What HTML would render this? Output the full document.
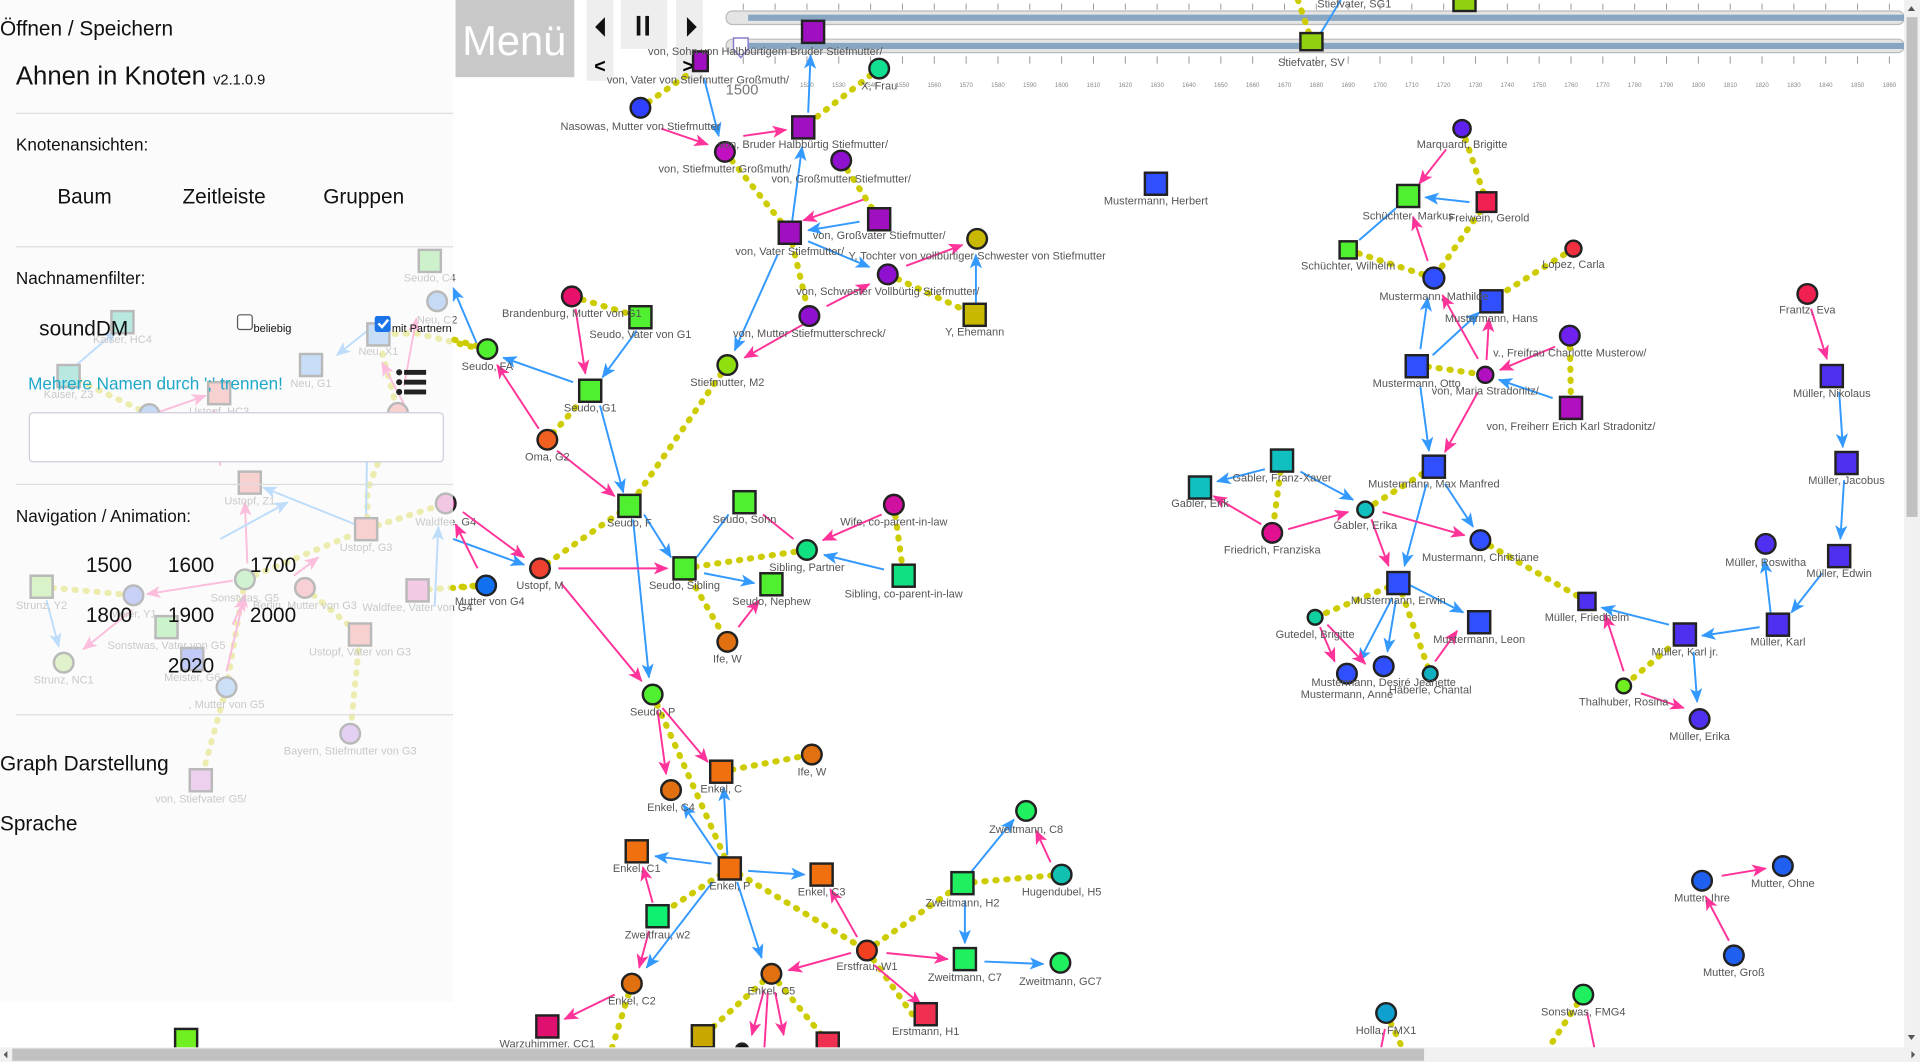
<!DOCTYPE html>
<html><head><meta charset="utf-8"><style>
html,body{margin:0;padding:0;background:#fff;overflow:hidden;width:1920px;height:1062px}
svg{display:block}
.l{font-family:"Liberation Sans Narrow","Liberation Sans",sans-serif;font-size:9px;fill:#555;text-anchor:middle}
.p{font-family:"Liberation Sans",sans-serif;fill:#111}
.b{stroke:#3399ff;stroke-width:1.6;fill:none;marker-end:url(#ab)}
.k{stroke:#ff3399;stroke-width:1.6;fill:none;marker-end:url(#ak)}
.y{stroke:#cccc00;stroke-width:5;stroke-dasharray:1 8;stroke-linecap:round;fill:none}
.n{stroke:#222;stroke-width:2}
</style></head><body>
<svg width="1920" height="1062" viewBox="0 0 1568 867" preserveAspectRatio="none" xmlns="http://www.w3.org/2000/svg">
<defs>
<marker id="ab" markerUnits="userSpaceOnUse" markerWidth="12" markerHeight="10" refX="11" refY="5" orient="auto"><path d="M0,0L12,5L0,10L3,5z" fill="#3399ff"/></marker>
<marker id="ak" markerUnits="userSpaceOnUse" markerWidth="12" markerHeight="10" refX="11" refY="5" orient="auto"><path d="M0,0L12,5L0,10L3,5z" fill="#ff3399"/></marker>
</defs>
<rect width="1568" height="867" fill="#fff"/>

<!-- timeline -->
<g stroke="#999" stroke-width="0.8">
<path d="M607,3v5M633,3v5M659,3v5M685,3v5M711,3v5M737,3v5M763,3v5M789,3v5M815,3v5M841,3v5M867,3v5M893,3v5M919,3v5M945,3v5M971,3v5M997,3v5M1023,3v5M1049,3v5M1075,3v5M1101,3v5M1127,3v5M1153,3v5M1179,3v5M1205,3v5M1231,3v5M1257,3v5M1283,3v5M1309,3v5M1335,3v5M1361,3v5M1387,3v5M1413,3v5M1439,3v5M1465,3v5M1491,3v5M1517,3v5M1543,3v5"/>
<path d="M607,46v6M633,46v6M659,46v6M685,46v6M711,46v6M737,46v6M763,46v6M789,46v6M815,46v6M841,46v6M867,46v6M893,46v6M919,46v6M945,46v6M971,46v6M997,46v6M1023,46v6M1049,46v6M1075,46v6M1101,46v6M1127,46v6M1153,46v6M1179,46v6M1205,46v6M1231,46v6M1257,46v6M1283,46v6M1309,46v6M1335,46v6M1361,46v6M1387,46v6M1413,46v6M1439,46v6M1465,46v6M1491,46v6M1517,46v6M1543,46v6"/>
</g>
<rect x="593" y="9" width="962" height="11" rx="5" fill="#e4e4e4" stroke="#bbb"/>
<rect x="611" y="12" width="944" height="5" fill="#88a6c2"/>
<rect x="593" y="32" width="962" height="11" rx="5" fill="#e4e4e4" stroke="#bbb"/>
<rect x="611" y="35" width="944" height="5" fill="#88a6c2"/>
<path d="M599,31h12v9l-6,7l-6,-7z" fill="#fff" stroke="#8a7acc" stroke-width="1.2"/>
<g font-family="Liberation Sans,sans-serif" font-size="5" fill="#888" text-anchor="middle">
<text x="659" y="71">1520</text><text x="685" y="71">1530</text><text x="711" y="71">1540</text><text x="737" y="71">1550</text><text x="763" y="71">1560</text><text x="789" y="71">1570</text><text x="815" y="71">1580</text><text x="841" y="71">1590</text><text x="867" y="71">1600</text><text x="893" y="71">1610</text><text x="919" y="71">1620</text><text x="945" y="71">1630</text><text x="971" y="71">1640</text><text x="997" y="71">1650</text><text x="1023" y="71">1660</text><text x="1049" y="71">1670</text><text x="1075" y="71">1680</text><text x="1101" y="71">1690</text><text x="1127" y="71">1700</text><text x="1153" y="71">1710</text><text x="1179" y="71">1720</text><text x="1205" y="71">1730</text><text x="1231" y="71">1740</text><text x="1257" y="71">1750</text><text x="1283" y="71">1760</text><text x="1309" y="71">1770</text><text x="1335" y="71">1780</text><text x="1361" y="71">1790</text><text x="1387" y="71">1800</text><text x="1413" y="71">1810</text><text x="1439" y="71">1820</text><text x="1465" y="71">1830</text><text x="1491" y="71">1840</text><text x="1517" y="71">1850</text><text x="1543" y="71">1860</text>
</g>
<text x="606" y="77" font-family="Liberation Sans,sans-serif" font-size="12" fill="#777" text-anchor="middle">1500</text>

<!-- faded left graph -->
<g>
<path class="y" d="M385,283L340,272L310,273"/><path class="y" d="M310,280L325,337"/><path class="y" d="M56,307L122,338"/>
<path class="y" d="M34,479L109,486"/><path class="y" d="M200,473L299,432L364,411"/><path class="y" d="M341,482L390,478"/>
<path class="y" d="M249,480L294,518L286,599"/><path class="y" d="M200,473L185,561L164,637"/><path class="y" d="M300,432L300,400L325,337"/>
<path class="b" d="M390,282L370,235"/><path class="b" d="M300,270L275,290"/><path class="k" d="M330,330L312,296"/>
<path class="k" d="M190,510L200,488"/><path class="b" d="M299,420L300,350"/><path class="b" d="M290,428L215,398"/>
<path class="k" d="M185,548L200,485"/><path class="k" d="M108,498L68,530"/><path class="b" d="M38,490L48,528"/>
<path class="k" d="M125,338L168,323"/><path class="k" d="M180,380L175,335"/><path class="b" d="M60,300L95,270"/>
<path class="k" d="M240,470L260,455"/><path class="b" d="M355,495L358,430"/><path class="k" d="M330,315L340,260"/>
<path class="k" d="M190,474L120,485"/><path class="k" d="M202,460L200,410"/><path class="b" d="M180,440L235,410"/>
<g class="n" stroke="#666">
<rect x="342" y="204" width="18" height="18" fill="#66e060"/><circle cx="357" cy="246" r="8" fill="#4a90e8"/>
<rect x="300" y="264" width="18" height="18" fill="#5599ee"/><rect x="245" y="289" width="18" height="18" fill="#5599ee"/>
<rect x="91" y="254" width="18" height="18" fill="#20c0a0"/><rect x="47" y="298" width="18" height="18" fill="#20c0a0"/>
<rect x="170" y="312" width="18" height="18" fill="#f07070"/><circle cx="122" cy="338" r="8" fill="#4a90e8"/>
<circle cx="325" cy="337" r="8" fill="#f07070"/><circle cx="364" cy="411" r="8" fill="#e050b0"/>
<rect x="195" y="385" width="18" height="18" fill="#f07070"/><rect x="290" y="423" width="18" height="18" fill="#f07070"/>
<rect x="25" y="470" width="18" height="18" fill="#90e050"/><circle cx="109" cy="486" r="8" fill="#5070f0"/>
<circle cx="200" cy="473" r="8" fill="#70e070"/><circle cx="249" cy="480" r="8" fill="#f07080"/>
<rect x="332" y="473" width="18" height="18" fill="#e060b0"/><rect x="127" y="503" width="18" height="18" fill="#60e060"/>
<rect x="148" y="529" width="18" height="18" fill="#4060f0"/><rect x="285" y="509" width="18" height="18" fill="#f07070"/>
<circle cx="52" cy="541" r="8" fill="#a0e060"/><circle cx="185" cy="561" r="8" fill="#60a0f0"/>
<circle cx="286" cy="599" r="8" fill="#b070e0"/><rect x="155" y="628" width="18" height="18" fill="#d070d0"/>
</g>
<text class="l" x="351" y="230">Seudo, C4</text><text class="l" x="357" y="264">Neu, C2</text><text class="l" x="309" y="290">Neu, X1</text>
<text class="l" x="254" y="316">Neu, G1</text><text class="l" x="100" y="280">Kaiser, HC4</text><text class="l" x="56" y="325">Kaiser, Z3</text>
<text class="l" x="179" y="339">Ustopf, HC3</text><text class="l" x="364" y="429">Waldfee, G4</text><text class="l" x="204" y="412">Ustopf, Z1</text>
<text class="l" x="299" y="450">Ustopf, G3</text><text class="l" x="34" y="497">Strunz, Y2</text><text class="l" x="109" y="504">Meier, Y1</text>
<text class="l" x="200" y="491">Sonstwas, G5</text><text class="l" x="249" y="497">Berlin, Mutter von G3</text><text class="l" x="341" y="499">Waldfee, Vater von G4</text>
<text class="l" x="136" y="530">Sonstwas, Vater von G5</text><text class="l" x="157" y="556">Meister, G6</text><text class="l" x="294" y="535">Ustopf, Vater von G3</text>
<text class="l" x="52" y="558">Strunz, NC1</text><text class="l" x="185" y="578">, Mutter von G5</text><text class="l" x="286" y="616">Bayern, Stiefmutter von G3</text>
<text class="l" x="164" y="655">von, Stiefvater G5/</text>
</g>

<!-- left panel overlay -->
<rect x="0" y="0" width="370" height="818" fill="#fafafa" opacity="0.7"/>
<text class="p" x="0" y="29" font-size="17">Öffnen / Speichern</text>
<text class="p" x="13" y="69" font-size="21">Ahnen in Knoten <tspan font-size="12">v2.1.0.9</tspan></text>
<rect x="13" y="92" width="357" height="1" fill="#ddd"/>
<text class="p" x="13" y="123" font-size="14">Knotenansichten:</text>
<text class="p" x="69" y="166" font-size="17" text-anchor="middle">Baum</text>
<text class="p" x="183" y="166" font-size="17" text-anchor="middle">Zeitleiste</text>
<text class="p" x="297" y="166" font-size="17" text-anchor="middle">Gruppen</text>
<rect x="13" y="201" width="357" height="1" fill="#ddd"/>
<text class="p" x="13" y="232" font-size="14">Nachnamenfilter:</text>
<text class="p" x="32" y="274" font-size="17">soundDM</text>
<rect x="194" y="257" width="12" height="12" rx="2" fill="#fff" stroke="#555"/>
<text class="p" x="207" y="271" font-size="9">beliebig</text>
<rect x="306" y="258" width="13" height="13" rx="2" fill="#1a73e8"/>
<path d="M309,264l3,3l5,-6" stroke="#fff" stroke-width="2" fill="none"/>
<text class="p" x="320" y="271" font-size="9">mit Partnern</text>
<text x="23" y="318" font-size="14" textLength="208" font-family="Liberation Sans,sans-serif" fill="#20a8c8">Mehrere Namen durch ';' trennen!</text>
<g fill="#222"><circle cx="326" cy="304" r="2.5"/><circle cx="326" cy="312" r="2.5"/><circle cx="326" cy="320" r="2.5"/>
<rect x="330" y="302" width="18" height="4"/><rect x="330" y="310" width="18" height="4"/><rect x="330" y="318" width="18" height="4"/></g>
<rect x="24" y="337" width="338" height="40" rx="3" fill="#fff" stroke="#ccd"/>
<rect x="13" y="395" width="357" height="1" fill="#ddd"/>
<text class="p" x="13" y="426" font-size="14">Navigation / Animation:</text>
<g class="p" font-size="17" text-anchor="middle">
<text x="89" y="467">1500</text><text x="156" y="467">1600</text><text x="223" y="467">1700</text>
<text x="89" y="508">1800</text><text x="156" y="508">1900</text><text x="223" y="508">2000</text>
<text x="156" y="549">2020</text></g>
<rect x="13" y="583" width="357" height="1" fill="#ddd"/>
<text class="p" x="0" y="629" font-size="17">Graph Darstellung</text>
<text class="p" x="0" y="678" font-size="17">Sprache</text>

<!-- top controls -->
<rect x="372" y="0" width="97" height="63" fill="#c8c8c8"/>
<text x="420" y="45" font-size="34" font-family="Liberation Sans,sans-serif" fill="#fff" text-anchor="middle">Menü</text>
<rect x="479" y="0" width="22" height="66" fill="#eee"/>
<rect x="507" y="0" width="38" height="40" fill="#eee"/>
<rect x="552" y="0" width="22" height="66" fill="#eee"/>
<path d="M494,14v16l-8,-8z" fill="#111"/><rect x="520" y="13" width="3" height="16" fill="#111"/><rect x="527" y="13" width="3" height="16" fill="#111"/>
<path d="M561,14v16l8,-8z" fill="#111"/>
<text x="490" y="59" font-size="16" font-weight="bold" font-family="Liberation Sans,sans-serif" text-anchor="middle">&lt;</text>
<text x="562" y="59" font-size="16" font-weight="bold" font-family="Liberation Sans,sans-serif" text-anchor="middle">&gt;</text>

<!-- yellow partner links -->
<path class="y" d="M718,56L656,104"/><path class="y" d="M560,62L523,88"/><path class="y" d="M592,124L645,190"/>
<path class="y" d="M687,131L718,179"/><path class="y" d="M645,190L661,258"/><path class="y" d="M725,224L796,257"/>
<path class="y" d="M594,298L514,413"/><path class="y" d="M467,242L523,259"/><path class="y" d="M482,319L447,359"/>
<path class="y" d="M514,413L441,464"/><path class="y" d="M559,464L659,449"/><path class="y" d="M559,464L594,524"/>
<path class="y" d="M730,412L738,470"/><path class="y" d="M397,478L370,480"/><path class="y" d="M398,285L370,277"/>
<path class="y" d="M533,567L596,709"/><path class="y" d="M589,630L663,616"/><path class="y" d="M596,709L537,748"/>
<path class="y" d="M596,709L708,776"/><path class="y" d="M708,776L786,721"/><path class="y" d="M786,721L867,714"/>
<path class="y" d="M630,795L574,846"/><path class="y" d="M630,795L676,851"/><path class="y" d="M516,803L500,855"/>
<path class="y" d="M708,776L745,828"/><path class="y" d="M1060,0L1071,33"/>
<path class="y" d="M1194,105L1214,165"/><path class="y" d="M1214,165L1171,227"/><path class="y" d="M1101,204L1171,227"/>
<path class="y" d="M1285,203L1218,245"/><path class="y" d="M1157,298L1213,306"/><path class="y" d="M1282,274L1283,333"/>
<path class="y" d="M1047,376L1039,435"/><path class="y" d="M1115,416L1171,381"/><path class="y" d="M1142,476L1074,504"/>
<path class="y" d="M1142,476L1168,550"/><path class="y" d="M1209,441L1296,491"/><path class="y" d="M1376,518L1326,560"/>
<path class="y" d="M1132,827L1145,855"/><path class="y" d="M1293,812L1265,855"/>

<!-- blue arrows -->
<path class="b" d="M575,64L587,111"/><path class="b" d="M660,92L662,45"/><path class="b" d="M647,180L655,120"/>
<path class="b" d="M702,181L660,188"/><path class="b" d="M660,197L710,218"/><path class="b" d="M797,247L797,208"/>
<path class="b" d="M635,208L600,286"/><path class="b" d="M520,270L492,308"/><path class="b" d="M468,312L411,292"/>
<path class="b" d="M490,331L509,402"/><path class="b" d="M370,440L428,461"/><path class="b" d="M517,424L530,553"/>
<path class="b" d="M526,420L548,455"/><path d="M569,455L595,420" stroke="#3399ff" stroke-width="1.6"/>
<path class="b" d="M722,465L673,453"/><path class="b" d="M575,468L616,476"/>
<path class="b" d="M587,700L558,657"/><path class="b" d="M594,698L591,643"/><path class="b" d="M581,705L535,699"/>
<path class="b" d="M611,711L657,714"/><path class="b" d="M602,720L622,782"/><path class="b" d="M582,720L528,790"/>
<path class="b" d="M793,712L828,669"/><path class="b" d="M788,735L788,770"/><path class="b" d="M804,785L852,787"/>
<path d="M1078,28L1095,0" stroke="#3399ff" stroke-width="1.6"/>
<path class="b" d="M1200,165L1164,161"/><path d="M1110,196L1140,170" stroke="#3399ff" stroke-width="1.6"/>
<path class="b" d="M1160,285L1166,243"/><path class="b" d="M1170,290L1208,255"/><path class="b" d="M1268,325L1224,310"/>
<path class="b" d="M1160,316L1167,368"/><path class="b" d="M1033,383L994,393"/><path class="b" d="M1062,385L1105,408"/>
<path class="b" d="M1180,395L1203,430"/><path class="b" d="M1165,395L1147,462"/><path class="b" d="M1152,478L1195,500"/>
<path class="b" d="M1137,488L1110,540"/><path class="b" d="M1140,490L1133,532"/><path class="b" d="M1363,510L1308,496"/>
<path class="b" d="M1437,512L1390,519"/><path class="b" d="M1383,532L1386,573"/><path class="b" d="M1446,500L1441,457"/>
<path class="b" d="M1488,468L1463,500"/><path class="b" d="M1502,320L1505,365"/><path class="b" d="M1506,392L1503,440"/>

<!-- pink arrows -->
<path class="k" d="M540,105L578,118"/><path class="k" d="M607,111L642,106"/><path class="k" d="M705,163L656,180"/>
<path class="k" d="M675,250L710,232"/><path class="k" d="M740,217L786,200"/><path class="k" d="M661,262L608,292"/>
<path class="k" d="M470,252L478,305"/><path class="k" d="M440,350L406,298"/><path class="k" d="M455,368L502,405"/>
<path class="k" d="M378,418L428,455"/><path class="k" d="M390,464L372,428"/><path class="k" d="M456,464L545,464"/>
<path class="k" d="M458,476L524,556"/><path class="k" d="M720,420L672,441"/><path d="M623,420L648,440" stroke="#ff3399" stroke-width="1.6"/>
<path class="k" d="M603,512L620,490"/><path class="k" d="M537,580L544,632"/><path class="k" d="M541,578L578,622"/>
<path class="k" d="M533,737L525,708"/><path class="k" d="M530,760L522,790"/><path class="k" d="M700,765L678,726"/>
<path class="k" d="M695,778L644,792"/><path class="k" d="M724,778L774,783"/><path class="k" d="M714,788L752,820"/>
<path class="k" d="M502,812L461,832"/><path class="k" d="M624,808L614,845"/><path d="M627,810L624,860" stroke="#ff3399" stroke-width="1.6"/>
<path class="k" d="M633,810L640,845"/><path class="k" d="M858,704L846,678"/>
<path class="k" d="M1181,122L1159,150"/><path class="k" d="M1166,213L1154,177"/><path class="k" d="M1207,293L1178,241"/>
<path class="k" d="M1214,294L1216,260"/><path class="k" d="M1270,283L1225,302"/><path class="k" d="M1207,320L1180,369"/>
<path class="k" d="M1030,428L991,405"/><path class="k" d="M1052,432L1101,418"/><path class="k" d="M1129,418L1196,437"/>
<path class="k" d="M1120,424L1134,462"/><path class="k" d="M1078,512L1090,540"/><path class="k" d="M1084,510L1115,542"/>
<path class="k" d="M1172,540L1190,515"/><path class="k" d="M1326,548L1311,502"/><path class="k" d="M1340,566L1375,578"/>
<path class="k" d="M1479,252L1492,293"/><path class="k" d="M1406,715L1442,709"/><path class="k" d="M1412,768L1393,732"/>
<path d="M1131,840L1128,855" stroke="#ff3399" stroke-width="1.6"/><path d="M1296,826L1302,855" stroke="#ff3399" stroke-width="1.6"/>

<!-- nodes -->
<g class="n">
<rect x="566" y="42" width="12" height="16" fill="#a010c0"/>
<rect x="655" y="17" width="18" height="18" fill="#a010c0"/>
<circle cx="718" cy="56" r="8" fill="#10e090"/>
<circle cx="523" cy="88" r="8" fill="#3040ff"/>
<rect x="647" y="95" width="18" height="18" fill="#a010c0"/>
<circle cx="592" cy="124" r="8" fill="#c010c0"/>
<circle cx="687" cy="131" r="8" fill="#9010d0"/>
<rect x="709" y="170" width="18" height="18" fill="#a010c0"/>
<rect x="636" y="181" width="18" height="18" fill="#a010c0"/>
<circle cx="798" cy="195" r="8" fill="#c8b800"/>
<circle cx="725" cy="224" r="8" fill="#9010d0"/>
<rect x="787" y="248" width="18" height="18" fill="#c8b800"/>
<circle cx="661" cy="258" r="8" fill="#9010d0"/>
<circle cx="594" cy="298" r="8" fill="#90e010"/>
<circle cx="467" cy="242" r="8" fill="#e8106a"/>
<rect x="514" y="250" width="18" height="18" fill="#50f030"/>
<circle cx="398" cy="285" r="8" fill="#50f030"/>
<rect x="473" y="310" width="18" height="18" fill="#50f030"/>
<circle cx="447" cy="359" r="8" fill="#f06020"/>
<rect x="505" y="404" width="18" height="18" fill="#50f030"/>
<rect x="599" y="401" width="18" height="18" fill="#50f030"/>
<circle cx="730" cy="412" r="8" fill="#d010a0"/>
<circle cx="659" cy="449" r="8" fill="#10e080"/>
<rect x="550" y="455" width="18" height="18" fill="#50f030"/>
<rect x="621" y="468" width="18" height="18" fill="#50f030"/>
<rect x="729" y="461" width="18" height="18" fill="#10e080"/>
<circle cx="441" cy="464" r="8" fill="#f04030"/>
<circle cx="397" cy="478" r="8" fill="#1070f0"/>
<circle cx="594" cy="524" r="8" fill="#e07010"/>
<circle cx="533" cy="567" r="8" fill="#50f030"/>
<circle cx="663" cy="616" r="8" fill="#e07010"/>
<rect x="580" y="621" width="18" height="18" fill="#f07010"/>
<circle cx="548" cy="645" r="8" fill="#e07010"/>
<rect x="511" y="686" width="18" height="18" fill="#f07010"/>
<rect x="587" y="700" width="18" height="18" fill="#f07010"/>
<rect x="662" y="705" width="18" height="18" fill="#f07010"/>
<rect x="528" y="739" width="18" height="18" fill="#10f070"/>
<circle cx="708" cy="776" r="8" fill="#f04020"/>
<circle cx="630" cy="795" r="8" fill="#e07010"/>
<circle cx="516" cy="803" r="8" fill="#e07010"/>
<rect x="438" y="829" width="18" height="18" fill="#e01070"/>
<rect x="747" y="819" width="18" height="18" fill="#f03050"/>
<rect x="777" y="712" width="18" height="18" fill="#20f060"/>
<circle cx="838" cy="662" r="8" fill="#20f060"/>
<circle cx="867" cy="714" r="8" fill="#10c0b0"/>
<rect x="779" y="774" width="18" height="18" fill="#20f060"/>
<circle cx="866" cy="786" r="8" fill="#20f060"/>
<rect x="565" y="837" width="18" height="18" fill="#c8a800"/>
<rect x="667" y="843" width="18" height="18" fill="#f03050"/>
<circle cx="606" cy="857" r="5" fill="#111"/>
<rect x="143" y="840" width="18" height="18" fill="#70f020"/>
<rect x="1187" y="-7" width="18" height="16" fill="#90d010"/>
<rect x="1062" y="27" width="18" height="14" fill="#90d010"/>
<rect x="935" y="141" width="18" height="18" fill="#3050ff"/>
<circle cx="1194" cy="105" r="7" fill="#6020f0"/>
<rect x="1141" y="151" width="18" height="18" fill="#50f030"/>
<rect x="1206" y="157" width="16" height="16" fill="#f02050"/>
<rect x="1094" y="197" width="14" height="14" fill="#50f030"/>
<circle cx="1285" cy="203" r="6.5" fill="#f03040"/>
<circle cx="1171" cy="227" r="8.5" fill="#3050ff"/>
<rect x="1209" y="237" width="18" height="18" fill="#3050ff"/>
<circle cx="1282" cy="274" r="8" fill="#7020f0"/>
<rect x="1148" y="290" width="18" height="18" fill="#3050ff"/>
<circle cx="1213" cy="306" r="6.5" fill="#b010c0"/>
<rect x="1274" y="324" width="18" height="18" fill="#b010c0"/>
<rect x="1162" y="372" width="18" height="18" fill="#3050ff"/>
<rect x="1038" y="367" width="18" height="18" fill="#10c0c0"/>
<rect x="971" y="389" width="18" height="18" fill="#10c0c0"/>
<circle cx="1115" cy="416" r="6.5" fill="#10c0c0"/>
<circle cx="1039" cy="435" r="8" fill="#e01090"/>
<circle cx="1209" cy="441" r="8" fill="#3050ff"/>
<rect x="1133" y="467" width="18" height="18" fill="#3050ff"/>
<circle cx="1074" cy="504" r="6" fill="#10d0a0"/>
<rect x="1199" y="499" width="18" height="18" fill="#3050ff"/>
<circle cx="1100" cy="550" r="8" fill="#3050ff"/>
<circle cx="1130" cy="544" r="8" fill="#3050ff"/>
<circle cx="1168" cy="550" r="6" fill="#10b0c0"/>
<rect x="1289" y="484" width="14" height="14" fill="#5030f0"/>
<rect x="1367" y="509" width="18" height="18" fill="#5030f0"/>
<rect x="1443" y="501" width="18" height="18" fill="#5030f0"/>
<circle cx="1326" cy="560" r="6" fill="#70f020"/>
<circle cx="1388" cy="587" r="8" fill="#5030f0"/>
<circle cx="1442" cy="444" r="8" fill="#5030f0"/>
<rect x="1493" y="445" width="18" height="18" fill="#5030f0"/>
<circle cx="1476" cy="240" r="8" fill="#f02050"/>
<rect x="1487" y="298" width="18" height="18" fill="#5030f0"/>
<rect x="1499" y="369" width="18" height="18" fill="#5030f0"/>
<circle cx="1390" cy="719" r="8" fill="#2060f0"/>
<circle cx="1456" cy="707" r="8" fill="#2060f0"/>
<circle cx="1416" cy="780" r="8" fill="#2060f0"/>
<circle cx="1132" cy="827" r="8" fill="#10a0d0"/>
<circle cx="1293" cy="812" r="8" fill="#20f060"/>
</g>

<!-- labels -->
<text class="l" x="1106" y="6">Stiefvater, SG1</text>
<text class="l" x="1071" y="54">Stiefvater, SV</text>
<text class="l" x="625" y="45">von, Sohn von Halbbürtigem Bruder Stiefmutter/</text>
<text class="l" x="570" y="68">von, Vater von Stiefmutter Großmuth/</text>
<text class="l" x="718" y="73">X, Frau</text>
<text class="l" x="523" y="106">Nasowas, Mutter von Stiefmutter</text>
<text class="l" x="656" y="121">von, Bruder Halbbürtig Stiefmutter/</text>
<text class="l" x="592" y="141">von, Stiefmutter Großmuth/</text>
<text class="l" x="687" y="149">von, Großmutter Stiefmutter/</text>
<text class="l" x="718" y="195">von, Großvater Stiefmutter/</text>
<text class="l" x="645" y="208">von, Vater Stiefmutter/</text>
<text class="l" x="798" y="212">Y, Tochter von vollbürtiger Schwester von Stiefmutter</text>
<text class="l" x="725" y="241">von, Schwester Vollbürtig Stiefmutter/</text>
<text class="l" x="796" y="274">Y, Ehemann</text>
<text class="l" x="661" y="275">von, Mutter Stiefmutterschreck/</text>
<text class="l" x="594" y="315">Stiefmutter, M2</text>
<text class="l" x="467" y="259">Brandenburg, Mutter von G1</text>
<text class="l" x="523" y="276">Seudo, Vater von G1</text>
<text class="l" x="398" y="302">Seudo, FA</text>
<text class="l" x="482" y="336">Seudo, G1</text>
<text class="l" x="447" y="376">Oma, G2</text>
<text class="l" x="514" y="430">Seudo, F</text>
<text class="l" x="608" y="427">Seudo, Sohn</text>
<text class="l" x="730" y="429">Wife, co-parent-in-law</text>
<text class="l" x="659" y="466">Sibling, Partner</text>
<text class="l" x="559" y="481">Seudo, Sibling</text>
<text class="l" x="630" y="494">Seudo, Nephew</text>
<text class="l" x="738" y="488">Sibling, co-parent-in-law</text>
<text class="l" x="441" y="481">Ustopf, M</text>
<text class="l" x="400" y="494">Mutter von G4</text>
<text class="l" x="594" y="541">Ife, W</text>
<text class="l" x="533" y="584">Seudo, P</text>
<text class="l" x="663" y="633">Ife, W</text>
<text class="l" x="589" y="647">Enkel, C</text>
<text class="l" x="548" y="662">Enkel, C4</text>
<text class="l" x="520" y="712">Enkel, C1</text>
<text class="l" x="596" y="726">Enkel, P</text>
<text class="l" x="671" y="731">Enkel, C3</text>
<text class="l" x="537" y="766">Zweitfrau, w2</text>
<text class="l" x="708" y="792">Erstfrau, W1</text>
<text class="l" x="630" y="812">Enkel, C5</text>
<text class="l" x="516" y="820">Enkel, C2</text>
<text class="l" x="447" y="855">Warzuhimmer, CC1</text>
<text class="l" x="756" y="845">Erstmann, H1</text>
<text class="l" x="786" y="740">Zweitmann, H2</text>
<text class="l" x="838" y="680">Zweitmann, C8</text>
<text class="l" x="867" y="731">Hugendubel, H5</text>
<text class="l" x="788" y="801">Zweitmann, C7</text>
<text class="l" x="866" y="804">Zweitmann, GC7</text>
<text class="l" x="944" y="167">Mustermann, Herbert</text>
<text class="l" x="1194" y="121">Marquardt, Brigitte</text>
<text class="l" x="1150" y="179">Schüchter, Markus</text>
<text class="l" x="1216" y="181">Freiwein, Gerold</text>
<text class="l" x="1101" y="220">Schüchter, Wilhelm</text>
<text class="l" x="1285" y="219">Lopez, Carla</text>
<text class="l" x="1171" y="245">Mustermann, Mathilde</text>
<text class="l" x="1218" y="263">Mustermann, Hans</text>
<text class="l" x="1282" y="291">v., Freifrau Charlotte Musterow/</text>
<text class="l" x="1157" y="316">Mustermann, Otto</text>
<text class="l" x="1213" y="322">von, Maria Stradonitz/</text>
<text class="l" x="1283" y="351">von, Freiherr Erich Karl Stradonitz/</text>
<text class="l" x="1171" y="398">Mustermann, Max Manfred</text>
<text class="l" x="1047" y="393">Gabler, Franz-Xaver</text>
<text class="l" x="980" y="414">Gabler, Erik</text>
<text class="l" x="1115" y="432">Gabler, Erika</text>
<text class="l" x="1039" y="452">Friedrich, Franziska</text>
<text class="l" x="1209" y="458">Mustermann, Christiane</text>
<text class="l" x="1142" y="493">Mustermann, Erwin</text>
<text class="l" x="1074" y="521">Gutedel, Brigitte</text>
<text class="l" x="1208" y="525">Mustermann, Leon</text>
<text class="l" x="1100" y="570">Mustermann, Anne</text>
<text class="l" x="1130" y="560">Mustermann, Desiré Jeanette</text>
<text class="l" x="1168" y="566">Häberle, Chantal</text>
<text class="l" x="1296" y="507">Müller, Friedhelm</text>
<text class="l" x="1376" y="535">Müller, Karl jr.</text>
<text class="l" x="1452" y="527">Müller, Karl</text>
<text class="l" x="1326" y="576">Thalhuber, Rosina</text>
<text class="l" x="1388" y="604">Müller, Erika</text>
<text class="l" x="1442" y="462">Müller, Roswitha</text>
<text class="l" x="1502" y="471">Müller, Edwin</text>
<text class="l" x="1476" y="256">Frantz, Eva</text>
<text class="l" x="1496" y="324">Müller, Nikolaus</text>
<text class="l" x="1508" y="395">Müller, Jacobus</text>
<text class="l" x="1390" y="736">Mutter, Ihre</text>
<text class="l" x="1456" y="724">Mutter, Ohne</text>
<text class="l" x="1416" y="797">Mutter, Groß</text>
<text class="l" x="1132" y="844">Holla, FMX1</text>
<text class="l" x="1293" y="829">Sonstwas, FMG4</text>

<!-- scrollbars -->
<rect x="1555" y="0" width="13" height="855" fill="#f1f1f1"/>
<rect x="1557" y="14" width="9" height="408" fill="#c1c1c1"/>
<path d="M1558,9l3,-4l3,4z M1558,845l3,4l3,-4z" fill="#555"/>
<rect x="0" y="855" width="1568" height="12" fill="#f1f1f1"/>
<rect x="10" y="856" width="1153" height="10" fill="#c1c1c1"/>
<path d="M6,858l-3,3l3,3z M1561,858l3,3l-3,3z" fill="#555"/>
</svg>
</body></html>
